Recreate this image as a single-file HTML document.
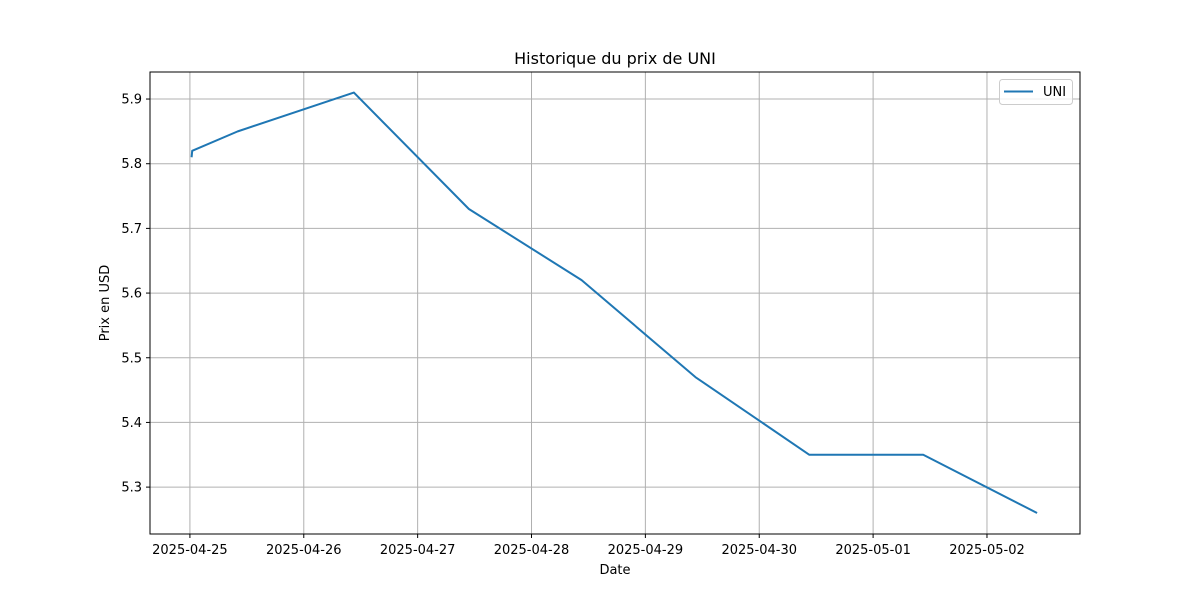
<!DOCTYPE html>
<html><head><meta charset="utf-8"><style>
body{margin:0;background:#fff}
svg{display:block;font-family:"DejaVu Sans","Liberation Sans",sans-serif}
</style></head><body>
<svg id="chart" width="1200" height="600" viewBox="0 0 1200 600">
<rect x="0" y="0" width="1200" height="600" fill="#fff"/>
<text x="615" y="64" font-size="16" text-anchor="middle">Historique du prix de UNI</text>
<g id="grid"></g>
<g id="ticks"></g>
<path id="line" fill="none" stroke="#1f77b4" stroke-width="2" stroke-linejoin="round"/>
<rect x="150" y="72" width="930" height="462" fill="none" stroke="#000" stroke-width="1"/>
<text x="615" y="574" font-size="13" text-anchor="middle">Date</text>
<text x="109" y="303" font-size="13" text-anchor="middle" transform="rotate(-90 109 303)">Prix en USD</text>
<g>
<rect x="999.5" y="79.5" width="73" height="25" rx="3" fill="#fff" fill-opacity="0.8" stroke="#ccc"/>
<line x1="1004" y1="91.5" x2="1033" y2="91.5" stroke="#1f77b4" stroke-width="2"/>
<text x="1043" y="96" font-size="13">UNI</text>
</g>
</svg>
<script>
const dayOffsets=[0.015,0.02,0.42,1.44,2.45,3.44,4.44,5.44,6.44,7.44];
const prices=[5.81,5.82,5.85,5.91,5.73,5.62,5.47,5.35,5.35,5.26];
const xTickLabels=["2025-04-25","2025-04-26","2025-04-27","2025-04-28","2025-04-29","2025-04-30","2025-05-01","2025-05-02"];
const yTicks=[5.3,5.4,5.5,5.6,5.7,5.8,5.9];
const L=150,R=1080,T=72,B=534;
const xmin=-0.3505,xmax=7.817,ymin=5.2275,ymax=5.9418;
const X=d=>L+(d-xmin)/(xmax-xmin)*(R-L);
const Y=v=>B-(v-ymin)/(ymax-ymin)*(B-T);
const ns="http://www.w3.org/2000/svg";
const grid=document.getElementById('grid'),ticks=document.getElementById('ticks');
function mk(tag,attrs,parent){const e=document.createElementNS(ns,tag);for(const k in attrs)e.setAttribute(k,attrs[k]);parent.appendChild(e);return e;}
xTickLabels.forEach((lab,i)=>{const x=X(i);
 const g=mk('line',{x1:x,x2:x,y1:T,y2:B,stroke:'#b0b0b0','stroke-width':1},grid);
 
 
 const t=mk('line',{x1:x,x2:x,y1:B,y2:B+4,stroke:'#000'},ticks);
 
 
 const tx=mk('text',{x:x,y:B+20,'font-size':13,'text-anchor':'middle'},ticks);tx.textContent=lab;
 
 
});
yTicks.forEach(v=>{const y=Y(v);
 const g=mk('line',{x1:L,x2:R,y1:y,y2:y,stroke:'#b0b0b0','stroke-width':1},grid);
 
 
 const t=mk('line',{x1:L-4,x2:L,y1:y,y2:y,stroke:'#000'},ticks);
 
 
 const tx=mk('text',{x:L-8,y:y+4.5,'font-size':13,'text-anchor':'end'},ticks);tx.textContent=v.toFixed(1);
 
 
});
document.getElementById('line').setAttribute('d',dayOffsets.map((d,i)=>(i?'L':'M')+X(d).toFixed(2)+' '+Y(prices[i]).toFixed(2)).join(' '));
</script>
</body></html>
